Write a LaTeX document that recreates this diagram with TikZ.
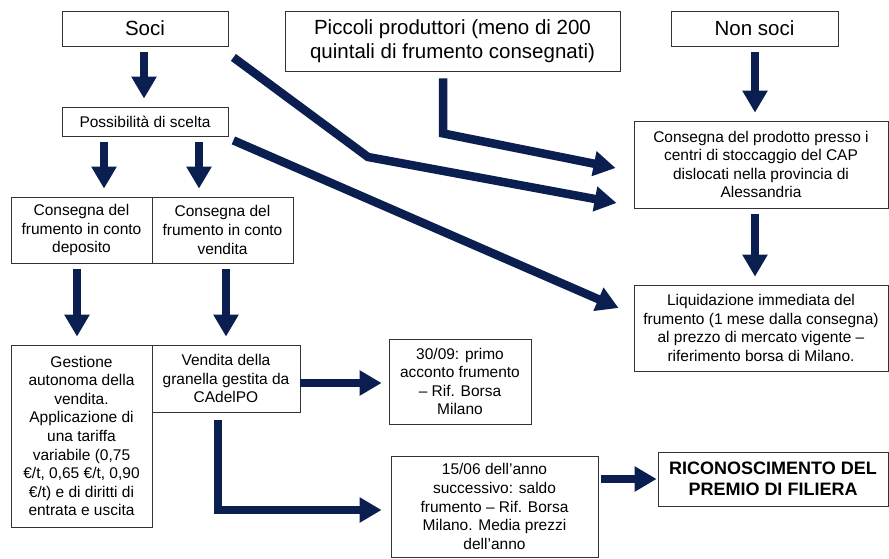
\documentclass[tikz,border=0pt]{standalone}
\usepackage{fontspec}
\setmainfont{Liberation Sans}
\usetikzlibrary{arrows.meta}
\definecolor{navy}{RGB}{10,30,80}
\begin{document}
\begin{tikzpicture}
  [x=1pt,y=-1pt,every node/.style={draw=black!80,line width=0.8pt,align=center,inner sep=0pt,
   font=\fontsize{15.5}{18.6}\selectfont}]
  \tikzstyle{big} = [font=\fontsize{20.5}{23.4}\selectfont]
  \tikzstyle{bold} = [font=\fontsize{18}{21.5}\selectfont\bfseries]
  \tikzstyle{arr} = [draw=navy,line width=8.5pt,-{Triangle[width=24pt,length=22pt]}]
  \useasboundingbox (0,0) rectangle (889,558);
  % top row
  \node[big,minimum width=166pt,minimum height=35pt] (soci) at (145,28.5) {Soci};
  \node[big,minimum width=335pt,minimum height=60pt] (piccoli) at (452.5,41)
    {Piccoli produttori (meno di 200\\quintali di frumento consegnati)};
  \node[big,minimum width=167pt,minimum height=35pt] (nonsoci) at (754.5,28.5) {Non soci};
  % soci branch
  \node[minimum width=166pt,minimum height=29pt] (scelta) at (145,121.5) {Possibilità di scelta};
  \node[minimum width=141pt,minimum height=66pt] (deposito) at (81.5,230)
    {Consegna del\\frumento in conto\\deposito};
  \node[minimum width=141pt,minimum height=66pt] (contovendita) at (222.5,230)
    {Consegna del\\frumento in conto\\vendita};
  \node[minimum width=141pt,minimum height=182pt] (gestione) at (81.5,436)
    {Gestione\\autonoma della\\vendita.\\Applicazione di\\una tariffa\\variabile (0,75\\€/t, 0,65 €/t, 0,90\\€/t) e di diritti di\\entrata e uscita};
  \node[minimum width=148pt,minimum height=67pt] (granella) at (226,378.5)
    {Vendita della\\granella gestita da\\CAdelPO};
  \node[minimum width=142pt,minimum height=85pt] (acconto) at (460,381.5)
    {30/09: primo\\acconto frumento\\– Rif. Borsa\\Milano};
  \node[minimum width=207pt,minimum height=101pt] (saldo) at (494.5,506.5)
    {15/06 dell’anno\\successivo: saldo\\frumento – Rif. Borsa\\Milano. Media prezzi\\dell’anno};
  \node[bold,minimum width=230pt,minimum height=54pt] (premio) at (773,479)
    {RICONOSCIMENTO DEL\\PREMIO DI FILIERA};
  % right column
  \node[minimum width=254pt,minimum height=87pt] (cap) at (761,164.5)
    {Consegna del prodotto presso i\\centri di stoccaggio del CAP\\dislocati nella provincia di\\Alessandria};
  \node[minimum width=254pt,minimum height=86pt] (liquid) at (761,328)
    {Liquidazione immediata del\\frumento (1 mese dalla consegna)\\al prezzo di mercato vigente –\\riferimento borsa di Milano.};
  % vertical arrows
  \foreach \source /\dest /\sx /\dx in {soci/scelta/-1/-1,scelta/deposito/-41/22.5,
      scelta/contovendita/54/-23.5,deposito/gestione/-4.5/-4.5,contovendita/granella/3.5/0,
      nonsoci/cap/0.5/-6,cap/liquid/-6/-6}
   \draw[arr,shorten <=6pt,shorten >=8pt] ([xshift=\sx pt]\source.south) -- ([xshift=\dx pt]\dest.north);
  % sale branch
  \draw[arr,shorten >=7pt] ([yshift=-4.5pt]granella.east) -- ([yshift=-1.5pt]acconto.west);
  \draw[arr,line join=miter,shorten <=8pt,shorten >=9pt] ([xshift=-8pt]granella.south) |- ([yshift=-3.5pt]saldo.west);
  \draw[arr,shorten <=3pt,shorten >=1pt] (saldo.east |- premio.west) -- (premio.west);
  % diagonals
  \coordinate (bend) at (368,157);
  \draw[arr,line join=miter] ([shift={(5pt,-11pt)}]soci.south east) -- (bend) -- ([shift={(-17pt,-38.5pt)}]cap.west);
  \draw[arr,line join=miter] ([shift={(-9.5pt,-7pt)}]piccoli.south) -- ++(0,-55pt) -- ([shift={(-18pt,-3.5pt)}]cap.west);
  \draw[arr] ([shift={(5pt,-4pt)}]scelta.south east) -- ([shift={(-15pt,20pt)}]liquid.west);
\end{tikzpicture}
\end{document}
